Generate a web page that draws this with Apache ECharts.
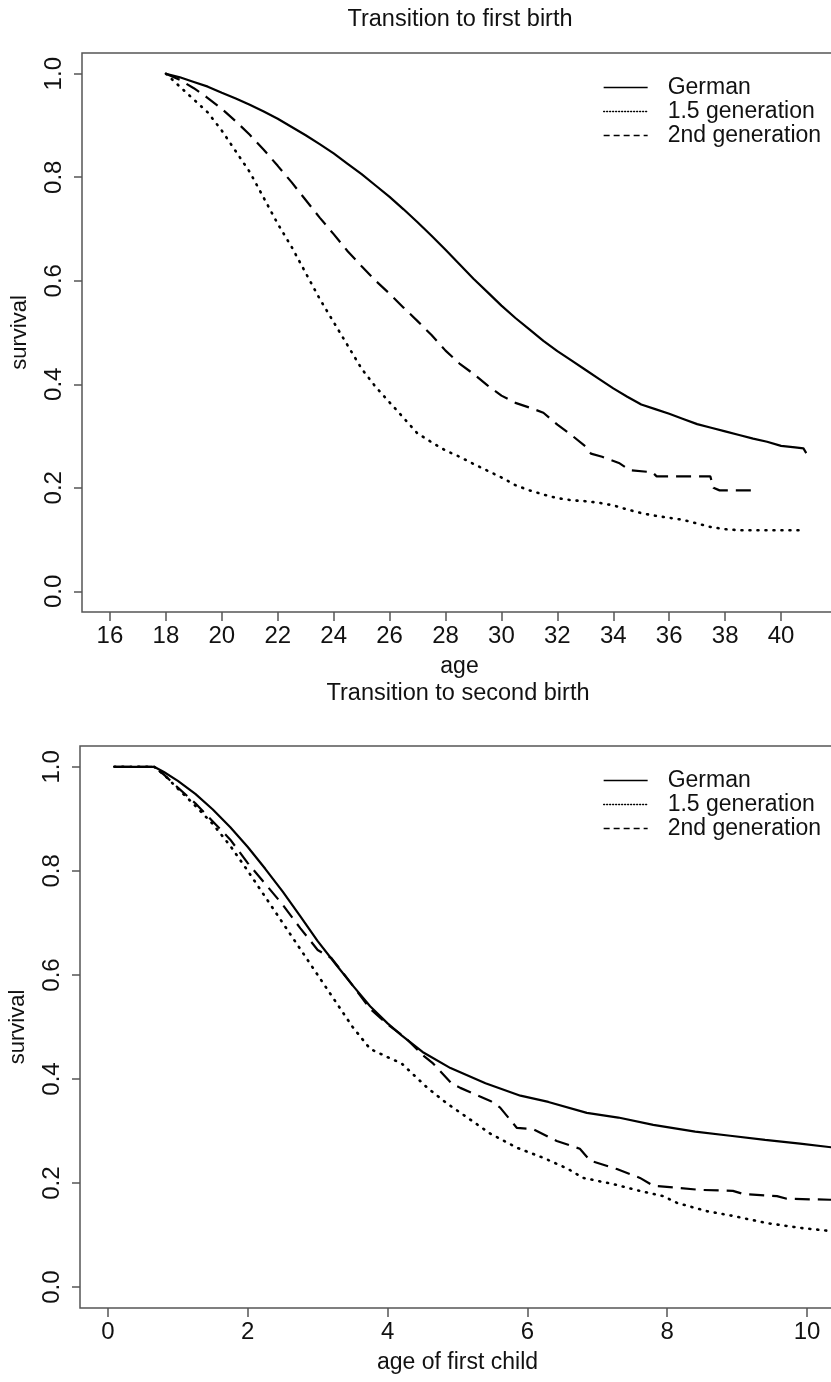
<!DOCTYPE html>
<html>
<head>
<meta charset="utf-8">
<script src="https://cdn.jsdelivr.net/npm/echarts@6/dist/echarts.min.js"></script>
<style>
  html, body { margin: 0; padding: 0; background: #fff; }
  #chart { width: 831px; height: 1382px; }
</style>
</head>
<body>
<div id="chart"></div>
<script>
// --- panel 1: transition to first birth (x = age) ---
var ageGerman = [18, 18.5, 19, 19.5, 20, 20.5, 21, 21.5, 22, 22.5, 23, 23.5, 24, 24.5, 25, 25.5, 26, 26.5, 27, 27.5, 28, 28.5, 29, 29.5, 30, 30.5, 31, 31.5, 32, 32.5, 33, 33.5, 34, 34.5, 35, 35.5, 36, 36.5, 37, 37.5, 38, 38.5, 39, 39.5, 40, 40.5, 40.8, 40.9];
var survGerman = [1.0, 0.993, 0.984, 0.975, 0.963, 0.952, 0.94, 0.927, 0.913, 0.897, 0.881, 0.864, 0.846, 0.826, 0.806, 0.784, 0.762, 0.738, 0.713, 0.687, 0.66, 0.632, 0.604, 0.578, 0.552, 0.528, 0.506, 0.484, 0.464, 0.446, 0.428, 0.41, 0.392, 0.376, 0.361, 0.352, 0.343, 0.333, 0.323, 0.316, 0.309, 0.302, 0.295, 0.289, 0.281, 0.278, 0.276, 0.267];

var ageGen15 = [18, 18.5, 19, 19.5, 20, 20.5, 21, 21.5, 22, 22.5, 23, 23.5, 24, 24.5, 25, 25.5, 26, 26.5, 27, 27.5, 28, 28.5, 29, 29.5, 30, 30.5, 31, 31.5, 32, 32.5, 33, 33.5, 34, 34.5, 35, 35.5, 36, 36.5, 37, 37.5, 38, 38.5, 39, 40, 40.8];
var survGen15 = [1.0, 0.975, 0.95, 0.925, 0.89, 0.85, 0.81, 0.76, 0.71, 0.665, 0.615, 0.565, 0.52, 0.475, 0.43, 0.395, 0.365, 0.335, 0.305, 0.288, 0.272, 0.26, 0.246, 0.233, 0.22, 0.205, 0.195, 0.187, 0.18, 0.176, 0.174, 0.171, 0.166, 0.158, 0.151, 0.146, 0.142, 0.138, 0.131, 0.124, 0.12, 0.118, 0.118, 0.118, 0.118];

var ageGen2 = [18, 18.5, 19, 19.5, 20, 20.5, 21, 21.5, 22, 22.5, 23, 23.5, 24, 24.5, 25, 25.5, 26, 26.5, 27, 27.5, 28, 28.5, 29, 29.5, 30, 30.5, 31, 31.5, 32, 32.5, 33, 33.2, 33.6, 34.2, 34.6, 35.4, 35.55, 37.47, 37.58, 37.8, 39.2];
var survGen2 = [1.0, 0.988, 0.972, 0.953, 0.932, 0.908, 0.882, 0.853, 0.822, 0.79, 0.756, 0.722, 0.69, 0.657, 0.628, 0.6, 0.575, 0.548, 0.522, 0.495, 0.465, 0.44, 0.42, 0.398, 0.378, 0.364, 0.355, 0.345, 0.322, 0.302, 0.28, 0.266, 0.26, 0.248, 0.234, 0.23, 0.222, 0.222, 0.2, 0.195, 0.195];

var ageTicks = [16, 18, 20, 22, 24, 26, 28, 30, 32, 34, 36, 38, 40];

// --- panel 2: transition to second birth (x = age of first child) ---
var childGerman = [0.09, 0.66, 0.8, 1.0, 1.25, 1.5, 1.75, 2.0, 2.25, 2.5, 2.75, 3.0, 3.25, 3.5, 3.75, 4.0, 4.2, 4.5, 4.9, 5.4, 5.9, 6.3, 6.85, 7.3, 7.8, 8.4, 8.9, 9.4, 9.9, 10.4, 10.5];
var surv2German = [1.0, 1.0, 0.99, 0.973, 0.948, 0.918, 0.884, 0.846, 0.804, 0.76, 0.713, 0.665, 0.622, 0.58, 0.54, 0.507, 0.484, 0.452, 0.421, 0.392, 0.368, 0.356, 0.335, 0.326, 0.312, 0.299, 0.291, 0.283, 0.276, 0.268, 0.267];

var childGen15 = [0.09, 0.66, 0.8, 1.0, 1.25, 1.5, 1.75, 2.0, 2.25, 2.5, 2.75, 3.0, 3.25, 3.5, 3.75, 4.0, 4.2, 4.57, 4.85, 5.14, 5.47, 5.85, 6.22, 6.57, 6.8, 7.23, 7.61, 7.94, 8.14, 8.57, 8.94, 9.43, 9.9, 10.33, 10.5];
var surv2Gen15 = [1.0, 1.0, 0.985, 0.958, 0.925, 0.89, 0.848, 0.8, 0.75, 0.7, 0.65, 0.6, 0.55, 0.5, 0.458, 0.442, 0.43, 0.383, 0.353, 0.326, 0.295, 0.268, 0.249, 0.228, 0.21, 0.198, 0.185, 0.175, 0.162, 0.146, 0.137, 0.123, 0.114, 0.108, 0.106];

var childGen2 = [0.09, 0.66, 0.8, 1.0, 1.25, 1.5, 1.75, 2.0, 2.25, 2.5, 2.75, 3.0, 3.2, 3.5, 3.75, 4.0, 4.25, 4.51, 4.65, 4.92, 5.04, 5.47, 5.61, 5.85, 6.08, 6.42, 6.75, 6.9, 7.28, 7.61, 7.8, 8.47, 8.94, 9.09, 9.57, 9.71, 10.33, 10.5];
var surv2Gen2 = [1.0, 1.0, 0.985, 0.96, 0.93, 0.895, 0.86, 0.815, 0.775, 0.735, 0.69, 0.648, 0.632, 0.58, 0.535, 0.505, 0.48, 0.445, 0.43, 0.391, 0.383, 0.358, 0.345, 0.306, 0.304, 0.281, 0.266, 0.243, 0.227, 0.21, 0.195, 0.187, 0.185, 0.179, 0.175, 0.17, 0.168, 0.168];

var childTicks = [0, 2, 4, 6, 8, 10, 12];
var survTicks = [0, 0.2, 0.4, 0.6, 0.8, 1.0];
var groups = ["German", "1.5 generation", "2nd generation"];

function pairs(xs, ys) {
  return xs.map(function (x, i) { return [x, ys[i]]; });
}

var chartDom = document.getElementById("chart");
var myChart = echarts.init(chartDom, null, { renderer: "canvas" });

var FONT = "Liberation Sans, Arial, sans-serif";
var gray = "#555";

function xAxisFor(idx, min, max, ticks, name) {
  return {
    gridIndex: idx, type: "value", min: min, max: max,
    name: name, nameLocation: "middle", nameGap: 43,
    nameTextStyle: { color: "#111", fontFamily: FONT, fontSize: 23 },
    axisLine: { show: false, onZero: false },
    axisTick: { show: true, inside: false, length: 9, customValues: ticks, lineStyle: { color: gray, width: 1.5 } },
    axisLabel: { customValues: ticks, margin: 12, color: "#111", fontFamily: FONT, fontSize: 24 },
    splitLine: { show: false }
  };
}

function yAxisFor(idx) {
  return {
    gridIndex: idx, type: "value", min: -0.04, max: 1.04,
    name: "survival", nameLocation: "middle", nameGap: 51,
    nameTextStyle: { color: "#111", fontFamily: FONT, fontSize: 22 },
    axisLine: { show: false, onZero: false },
    axisTick: { show: true, inside: false, length: 8, customValues: survTicks, lineStyle: { color: gray, width: 1.5 } },
    axisLabel: {
      customValues: survTicks, rotate: 90, margin: 16,
      color: "#111", fontFamily: FONT, fontSize: 24,
      formatter: function (v) { return v.toFixed(1); }
    },
    splitLine: { show: false }
  };
}

var styles = [
  { type: "solid", width: 2.2 },
  { type: [1, 7], width: 2.6, cap: "round" },
  { type: [15, 8], width: 2.2 }
];

function makeSeries(idx, data) {
  return data.map(function (d, i) {
    return {
      name: groups[i], type: "line", xAxisIndex: idx, yAxisIndex: idx,
      data: d, showSymbol: false, symbol: "none", smooth: false,
      lineStyle: Object.assign({ color: "#000" }, styles[i]),
      itemStyle: { color: "#000" },
      silent: true, clip: true
    };
  });
}

function legendFor(top) {
  return {
    orient: "vertical", left: 598, top: top,
    itemWidth: 44, itemHeight: 10, itemGap: 1,
    itemStyle: { opacity: 0 },
    textStyle: { color: "#111", fontFamily: FONT, fontSize: 23, padding: [0, 0, 0, 15] },
    data: [
      { name: groups[0], lineStyle: { width: 1.3, type: "solid" } },
      { name: groups[1], lineStyle: { width: 1.3, type: [1, 2] } },
      { name: groups[2], lineStyle: { width: 1.3, type: [6, 4] } }
    ]
  };
}

var option = {
  animation: false,
  backgroundColor: "#fff",
  title: [
    { text: "Transition to first birth", left: 455, top: 3, textAlign: "center",
      textStyle: { color: "#111", fontFamily: FONT, fontSize: 23.5, fontWeight: "normal" } },
    { text: "Transition to second birth", left: 453, top: 677, textAlign: "center",
      textStyle: { color: "#111", fontFamily: FONT, fontSize: 23.5, fontWeight: "normal" } }
  ],
  legend: [legendFor(71), legendFor(764)],
  grid: [
    { left: 82, top: 53, width: 755, height: 559, show: true, borderColor: gray, borderWidth: 1.5,
      backgroundColor: "transparent", outerBoundsMode: "none", containLabel: false },
    { left: 80, top: 746, width: 755, height: 562, show: true, borderColor: gray, borderWidth: 1.5,
      backgroundColor: "transparent", outerBoundsMode: "none", containLabel: false }
  ],
  xAxis: [
    xAxisFor(0, 15, 42, ageTicks, "age"),
    xAxisFor(1, -0.4, 10.4, childTicks, "age of first child")
  ],
  yAxis: [yAxisFor(0), yAxisFor(1)],
  series: makeSeries(0, [
    pairs(ageGerman, survGerman),
    pairs(ageGen15, survGen15),
    pairs(ageGen2, survGen2)
  ]).concat(makeSeries(1, [
    pairs(childGerman, surv2German),
    pairs(childGen15, surv2Gen15),
    pairs(childGen2, surv2Gen2)
  ]))
};

option && myChart.setOption(option);
</script>
</body>
</html>
